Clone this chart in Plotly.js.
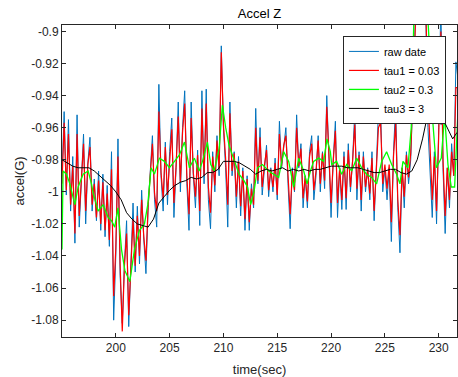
<!DOCTYPE html>
<html>
<head>
<meta charset="utf-8">
<script src="https://cdn.plot.ly/plotly-3.0.1.min.js"></script>
<style>html,body{margin:0;padding:0;background:#fff;}#chart{width:458px;height:377px;}</style>
</head>
<body>
<div id="chart"></div>
<script>
// ---- data ----
const rawTime = [195.0,195.2,195.4,195.6,195.8,196.0,196.2,196.4,196.6,196.8,197.0,197.2,197.4,197.6,197.8,198.0,198.2,198.4,198.6,198.8,199.0,199.2,199.4,199.6,199.8,200.0,200.2,200.4,200.6,200.8,201.0,201.2,201.4,201.6,201.8,202.0,202.2,202.4,202.6,202.8,203.0,203.2,203.4,203.6,203.8,204.0,204.2,204.4,204.6,204.8,205.0,205.2,205.4,205.6,205.8,206.0,206.2,206.4,206.6,206.8,207.0,207.2,207.4,207.6,207.8,208.0,208.2,208.4,208.6,208.8,209.0,209.2,209.4,209.6,209.8,210.0,210.2,210.4,210.6,210.8,211.0,211.2,211.4,211.6,211.8,212.0,212.2,212.4,212.6,212.8,213.0,213.2,213.4,213.6,213.8,214.0,214.2,214.4,214.6,214.8,215.0,215.2,215.4,215.6,215.8,216.0,216.2,216.4,216.6,216.8,217.0,217.2,217.4,217.6,217.8,218.0,218.2,218.4,218.6,218.8,219.0,219.2,219.4,219.6,219.8,220.0,220.2,220.4,220.6,220.8,221.0,221.2,221.4,221.6,221.8,222.0,222.2,222.4,222.6,222.8,223.0,223.2,223.4,223.6,223.8,224.0,224.2,224.4,224.6,224.8,225.0,225.2,225.4,225.6,225.8,226.0,226.2,226.4,226.6,226.8,227.0,227.2,227.4,227.6,227.8,228.0,228.2,228.4,228.6,228.8,229.0,229.2,229.4,229.6,229.8,230.0,230.2,230.4,230.6,230.8,231.0,231.2,231.4,231.6,231.8];

const rawDate = [-0.990,-0.950,-1.002,-0.955,-1.012,-0.978,-1.032,-0.952,-1.022,-0.990,-0.964,-1.020,-0.982,-0.966,-1.012,-0.992,-1.018,-0.987,-1.024,-0.989,-1.028,-0.996,-1.034,-0.975,-1.080,-1.040,-0.967,-1.052,-1.082,-1.045,-1.018,-1.084,-1.040,-1.007,-1.050,-1.009,-1.045,-0.999,-1.030,-1.051,-1.010,-0.990,-0.965,-1.005,-1.022,-0.933,-0.990,-1.012,-0.969,-1.008,-0.975,-0.954,-1.016,-0.985,-0.944,-1.000,-0.960,-0.937,-0.995,-1.024,-0.944,-0.990,-1.010,-0.974,-1.021,-0.937,-0.995,-0.936,-1.005,-1.023,-0.975,-1.000,-0.965,-0.990,-0.909,-0.960,-0.985,-1.022,-0.944,-0.990,-0.975,-1.010,-0.978,-1.015,-0.985,-1.024,-0.990,-1.024,-0.995,-1.010,-0.948,-0.995,-0.960,-1.002,-0.985,-0.971,-1.003,-0.985,-1.000,-0.979,-1.005,-0.956,-0.985,-0.970,-0.960,-0.995,-1.023,-0.985,-1.000,-0.952,-0.985,-0.970,-1.010,-0.990,-1.010,-0.975,-0.965,-1.005,-0.990,-0.965,-1.000,-0.975,-0.998,-0.940,-0.985,-1.016,-0.980,-0.956,-1.016,-0.985,-1.011,-0.975,-1.011,-0.970,-1.000,-0.980,-0.950,-1.005,-0.975,-1.012,-0.975,-1.000,-0.985,-1.005,-0.975,-1.018,-0.985,-0.950,-0.948,-1.000,-0.985,-1.005,-0.985,-1.031,-0.975,-0.946,-1.010,-1.038,-0.985,-1.010,-0.975,-0.995,-0.980,-0.940,-0.880,-0.860,-0.880,-0.850,-0.870,-0.890,-0.960,-0.990,-1.016,-0.975,-1.020,-0.960,-0.880,-0.985,-1.026,-0.985,-1.010,-0.970,-0.990,-0.919,-0.930];

const tau1 = [-0.995,-0.957,-0.999,-0.964,-1.008,-0.984,-1.026,-0.964,-1.015,-0.990,-0.970,-1.012,-0.983,-0.972,-1.008,-0.995,-1.016,-0.993,-1.020,-0.994,-1.024,-1.001,-1.030,-0.986,-1.065,-1.035,-0.978,-1.045,-1.087,-1.046,-1.026,-1.077,-1.044,-1.017,-1.046,-1.015,-1.040,-1.005,-1.028,-1.043,-1.009,-0.990,-0.970,-1.001,-1.012,-0.950,-0.988,-1.004,-0.972,-1.002,-0.978,-0.961,-1.007,-0.984,-0.953,-0.994,-0.963,-0.945,-0.990,-1.014,-0.954,-0.988,-1.003,-0.977,-1.012,-0.948,-0.990,-0.945,-0.997,-1.013,-0.978,-0.996,-0.968,-0.986,-0.913,-0.958,-0.979,-1.008,-0.951,-0.987,-0.976,-1.003,-0.981,-1.009,-0.987,-1.017,-0.992,-1.019,-0.998,-1.008,-0.960,-0.993,-0.966,-0.997,-0.984,-0.974,-0.999,-0.986,-0.997,-0.982,-1.002,-0.964,-0.984,-0.971,-0.965,-0.992,-1.014,-0.987,-0.999,-0.960,-0.984,-0.973,-1.004,-0.990,-1.006,-0.978,-0.970,-0.999,-0.987,-0.968,-0.995,-0.976,-0.993,-0.947,-0.982,-1.007,-0.981,-0.962,-1.007,-0.985,-1.005,-0.978,-1.004,-0.974,-0.997,-0.981,-0.958,-0.998,-0.977,-1.005,-0.978,-0.997,-0.986,-1.001,-0.979,-1.012,-0.987,-0.960,-0.957,-0.995,-0.983,-0.998,-0.983,-1.019,-0.978,-0.957,-1.005,-1.027,-0.985,-1.003,-0.977,-0.991,-0.976,-0.940,-0.885,-0.865,-0.875,-0.860,-0.870,-0.885,-0.940,-0.975,-1.005,-0.978,-1.012,-0.965,-0.900,-0.980,-1.015,-0.985,-1.005,-0.975,-0.990,-0.935,-0.935];

const tau2Time = [195.0,195.1,195.42,195.73,196.19,196.5,196.96,197.43,197.74,197.9,198.36,198.82,199.29,199.6,199.9,200.2,200.53,200.84,201.3,201.73,202.2,202.66,202.97,203.28,203.59,204.05,204.52,204.98,205.45,205.91,206.38,206.84,207.3,207.74,208.05,208.51,208.82,209.13,209.6,209.9,210.21,210.52,210.83,211.14,211.45,211.91,212.23,212.53,212.84,213.16,213.62,214.2,214.67,215.13,215.6,216.06,216.53,216.99,217.46,217.77,218.08,218.38,218.85,219.31,219.62,219.93,220.06,220.52,220.98,221.45,221.91,222.38,222.84,223.3,223.77,224.23,224.7,225.16,225.63,226.09,226.4,226.68,227.14,227.45,227.7,228.0,228.5,228.9,229.1,229.31,229.78,230.24,230.55,230.86,231.17,231.48,231.76];
const tau2 = [-1.036,-0.987,-0.989,-0.995,-1.008,-0.997,-0.989,-0.987,-0.995,-1.001,-1.012,-1.008,-1.016,-1.018,-1.022,-1.010,-1.036,-1.049,-1.056,-1.036,-1.024,-1.020,-1.008,-0.985,-0.989,-0.979,-0.981,-0.985,-0.981,-0.977,-0.969,-0.985,-0.979,-0.987,-0.981,-0.969,-0.983,-0.987,-0.973,-0.946,-0.960,-0.971,-0.977,-0.983,-0.989,-0.993,-0.997,-1.008,-1.000,-0.985,-0.983,-0.987,-0.989,-0.991,-0.975,-0.981,-0.997,-0.979,-0.987,-0.995,-0.987,-0.981,-0.979,-0.981,-0.967,-0.975,-0.983,-0.981,-0.989,-0.983,-0.987,-0.979,-0.985,-0.989,-0.991,-0.995,-0.981,-0.975,-0.983,-0.989,-0.995,-0.981,-0.985,-0.960,-0.890,-0.860,-0.860,-0.880,-0.905,-0.944,-0.985,-0.979,-0.952,-0.983,-0.997,-0.997,-0.954];

const tau3Time = [195.0,195.5,196.0,196.5,197.0,197.5,198.0,198.5,199.0,199.5,200.0,200.5,201.0,201.5,202.0,202.5,203.0,203.5,204.0,204.5,205.0,205.5,206.0,206.5,207.0,207.5,208.0,208.5,209.0,209.5,210.0,210.5,211.0,211.5,212.0,212.5,213.0,213.5,214.0,214.5,215.0,215.5,216.0,216.5,217.0,217.5,218.0,218.5,219.0,219.5,220.0,220.5,221.0,221.5,222.0,222.5,223.0,223.5,224.0,224.5,225.0,225.5,226.0,226.5,227.0,227.5,228.0,228.5,229.0,229.3,229.8,230.2,230.5,231.0,231.3,231.7];
const tau3 = [-0.980,-0.982,-0.984,-0.985,-0.985,-0.985,-0.987,-0.990,-0.993,-0.996,-1.000,-1.005,-1.013,-1.017,-1.020,-1.021,-1.022,-1.017,-1.007,-1.003,-0.999,-0.996,-0.994,-0.993,-0.991,-0.992,-0.991,-0.988,-0.988,-0.986,-0.981,-0.981,-0.981,-0.982,-0.984,-0.986,-0.989,-0.987,-0.986,-0.987,-0.986,-0.985,-0.987,-0.986,-0.987,-0.986,-0.987,-0.986,-0.986,-0.985,-0.984,-0.984,-0.984,-0.985,-0.985,-0.985,-0.986,-0.987,-0.988,-0.988,-0.987,-0.986,-0.986,-0.988,-0.989,-0.987,-0.980,-0.967,-0.951,-0.949,-0.952,-0.958,-0.956,-0.963,-0.967,-0.963];

const seriesNames = ['raw date','tau1 = 0.03','tau2 = 0.3','tau3 = 3'];
const xTicks = [200,205,210,215,220,225,230];
const yTicks = [-1.08,-1.06,-1.04,-1.02,-1,-0.98,-0.96,-0.94,-0.92,-0.9];
const yTickText = ['-1.08','-1.06','-1.04','-1.02','-1','-0.98','-0.96','-0.94','-0.92','-0.9'];

const axisColor = '#262626';
const fontFamily = 'Liberation Sans, Arial, sans-serif';

const traces = [
  {x: rawTime, y: rawDate, name: seriesNames[0], type: 'scatter', mode: 'lines', line: {color: '#0072BD', width: 1}},
  {x: rawTime, y: tau1, name: seriesNames[1], type: 'scatter', mode: 'lines', line: {color: '#FF0000', width: 1.2}},
  {x: tau2Time, y: tau2, name: seriesNames[2], type: 'scatter', mode: 'lines', line: {color: '#00FF00', width: 1.3}},
  {x: tau3Time, y: tau3, name: seriesNames[3], type: 'scatter', mode: 'lines', line: {color: '#000000', width: 1}}
];

const layout = {
  width: 458, height: 377,
  margin: {l: 62, r: 1, t: 25, b: 40, pad: 0},
  paper_bgcolor: '#ffffff', plot_bgcolor: '#ffffff',
  font: {family: fontFamily, size: 12, color: axisColor},
  title: {text: 'Accel Z', font: {size: 13, color: '#000000', family: fontFamily}, x: 0.5, xref: 'paper', y: 0.965, yref: 'container', yanchor: 'middle'},
  showlegend: true,
  legend: {x: 0.972, xanchor: 'right', y: 0.965, yanchor: 'top', bgcolor: '#ffffff', bordercolor: axisColor, borderwidth: 1, font: {size: 11, color: '#000000', family: fontFamily}},
  xaxis: {
    range: [195, 231.7], tickvals: xTicks, ticks: 'inside', ticklen: 4, tickcolor: axisColor, tickwidth: 1,
    showline: true, linecolor: axisColor, linewidth: 1, mirror: 'ticks', showgrid: false, zeroline: false,
    tickfont: {size: 12, color: axisColor},
    title: {text: 'time(sec)', font: {size: 13, color: axisColor}, standoff: 10}
  },
  yaxis: {
    range: [-1.0905, -0.896], tickvals: yTicks, ticktext: yTickText, ticks: 'inside', ticklen: 4, tickcolor: axisColor, tickwidth: 1,
    showline: true, linecolor: axisColor, linewidth: 1, mirror: 'ticks', showgrid: false, zeroline: false,
    tickfont: {size: 12, color: axisColor},
    title: {text: 'accel(G)', font: {size: 13, color: axisColor}, standoff: 3}
  }
};

Plotly.newPlot('chart', traces, layout, {displayModeBar: false, staticPlot: true});
</script>
</body>
</html>
